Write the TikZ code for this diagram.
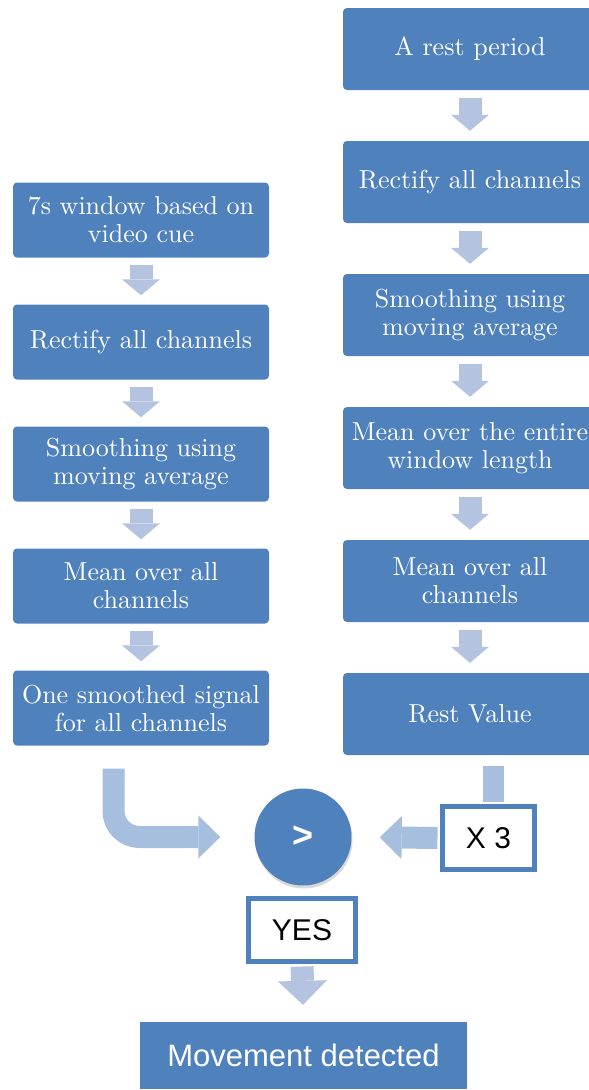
\documentclass[tikz,border=0pt]{standalone}
\usepackage{fontspec}
\newfontfamily\arialfont{Liberation Sans}
\newfontfamily\boxfont{lmroman10-regular.otf}
\usetikzlibrary{arrows.meta, shadows}
\definecolor{boxblue}{RGB}{79,129,189}
\definecolor{downblue}{RGB}{180,195,223}
\definecolor{sideblue}{RGB}{167,191,222}

\begin{document}
\begin{tikzpicture}[x=1pt, y=-1pt]
		\tikzstyle{Step} = [rectangle, rounded corners=4pt, fill=boxblue, text=white, align=center, inner sep=0pt, font=\boxfont\fontsize{26}{28}\selectfont]
		\tikzstyle{RightStep} = [Step, minimum width=254pt, minimum height=82pt]
		\tikzstyle{LeftStep} = [Step, minimum width=256pt, minimum height=75pt]
		\tikzstyle{Tag} = [rectangle, draw=boxblue, line width=5pt, fill=white, inner sep=0pt, minimum height=63pt, font=\arialfont\fontsize{30}{36}\selectfont]
		\tikzstyle{downarrow} = [draw=downblue, line width=23pt, -{Triangle[length=16pt, width=38pt, line width=0pt 0 0]}, shorten <=8pt, shorten >=10pt]
		\tikzstyle{sidearrow} = [draw=sideblue, line width=22pt, -{Triangle[length=22pt, width=43pt, line width=0pt 0 0]}]
		
		\useasboundingbox (0,0) rectangle (589,1090);
		
		\node (r1) [RightStep] at (470,49) {A rest period};
		\node (r2) [RightStep] at (470,182) {Rectify all channels};
		\node (r3) [RightStep] at (470,315) {Smoothing using\\moving average};
		\node (r4) [RightStep] at (470,448) {Mean over the entire\\window length};
		\node (r5) [RightStep] at (470,581) {Mean over all\\channels};
		\node (r6) [RightStep] at (470,714) {Rest Value};
		
		\node (l1) [LeftStep] at (141,220) {7s window based on\\video cue};
		\node (l2) [LeftStep] at (141,342) {Rectify all channels};
		\node (l3) [LeftStep] at (141,464) {Smoothing using\\moving average};
		\node (l4) [LeftStep] at (141,586) {Mean over all\\channels};
		\node (l5) [LeftStep] at (141,708) {One smoothed signal\\for all channels};
		
		\node (cmp) [circle, fill=boxblue, minimum size=97pt, inner sep=0pt, text=white, font=\arialfont\bfseries\fontsize{36}{40}\selectfont, drop shadow={shadow xshift=1pt, shadow yshift=-3pt, opacity=0.3}] at (303,837) {>};
		\node (x3) [Tag, minimum width=92pt] at (488.5,838) {X 3};
		\node (yes) [Tag, minimum width=107pt] at (302,930) {YES};
		\node (moved) [rectangle, fill=boxblue, text=white, minimum width=327pt, minimum height=67pt, font=\arialfont\fontsize{31}{36}\selectfont] at (303.5,1055.5) {Movement detected};
		
		\draw [downarrow] (r1) -- (r2);
		\draw [downarrow] (r2) -- (r3);
		\draw [downarrow] (r3) -- (r4);
		\draw [downarrow] (r4) -- (r5);
		\draw [downarrow] (r5) -- (r6);
		
		\draw [downarrow, shorten <=7pt, shorten >=9pt] (l1) -- (l2);
		\draw [downarrow, shorten <=7pt, shorten >=9pt] (l2) -- (l3);
		\draw [downarrow, shorten <=7pt, shorten >=9pt] (l3) -- (l4);
		\draw [downarrow, shorten <=7pt, shorten >=9pt] (l4) -- (l5);
		
		\draw [sidearrow, rounded corners=26pt, shorten >=34pt] ([xshift=-27.5pt, yshift=-23pt]l5.south) |- (cmp.west);
		\draw [draw=sideblue, line width=21pt, shorten >=2.5pt] ([xshift=23.5pt, yshift=-11pt]r6.south) -- ([xshift=5pt]x3.north);
		\draw [sidearrow, shorten <=2.5pt, shorten >=28pt] (x3.west) -- (cmp.east);
		\draw [draw=downblue, line width=23pt, -{Triangle[length=24pt, width=49pt, line width=0pt 0 0]}, shorten <=2.5pt, shorten >=17pt] (yes.south) -- (moved.north);
\end{tikzpicture}
\end{document}
